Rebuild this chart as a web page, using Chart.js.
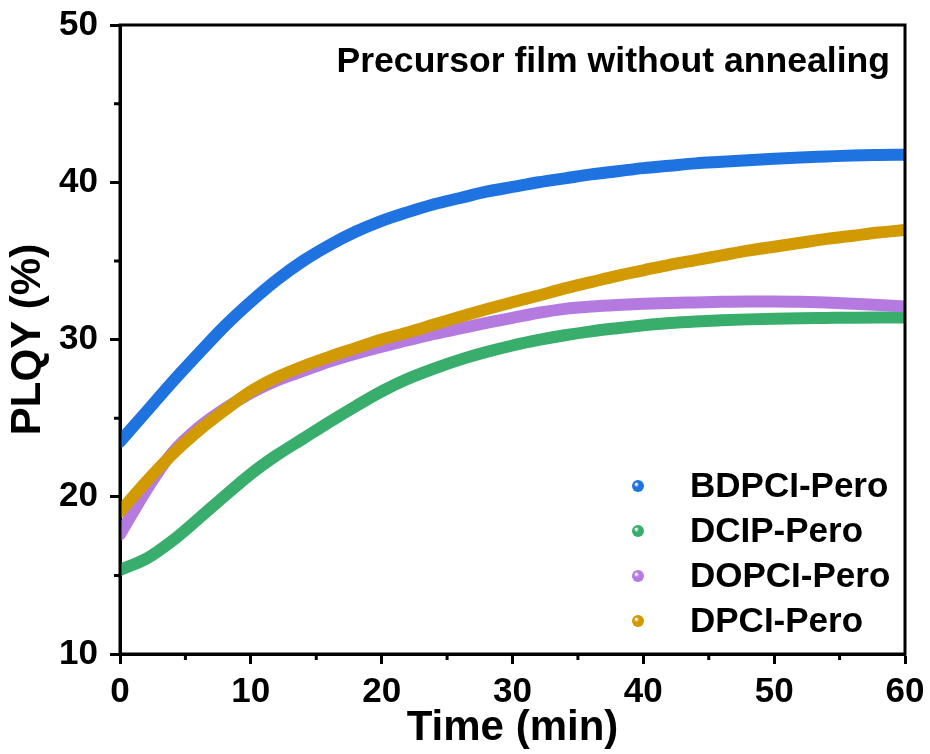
<!DOCTYPE html>
<html>
<head>
<meta charset="utf-8">
<script src="https://cdn.jsdelivr.net/npm/chart.js@4/dist/chart.umd.min.js"></script>
<style>
  html, body { margin: 0; padding: 0; background: #fff; }
  #wrap { width: 930px; height: 754px; }
</style>
</head>
<body>
<div id="wrap"><canvas id="c" width="930" height="754"></canvas></div>
<script>
// ---- data ----
const times = [0, 2, 4, 6, 8, 10, 12, 14, 16, 18, 20, 22, 24, 26, 28, 30, 32, 34, 36, 38, 40, 42, 44, 46, 48, 50, 52, 54, 56, 58, 60];
const seriesNames = ["BDPCI-Pero", "DCIP-Pero", "DOPCI-Pero", "DPCI-Pero"];
const bdpci = [23.5, 25.4, 27.3, 29.1, 30.85, 32.4, 33.8, 35.0, 36.0, 36.85, 37.55, 38.1, 38.6, 39.0, 39.4, 39.7, 40.0, 40.25, 40.5, 40.7, 40.9, 41.05, 41.2, 41.3, 41.4, 41.5, 41.58, 41.64, 41.7, 41.73, 41.75];
const dcip  = [15.35, 16.05, 17.2, 18.6, 20.05, 21.45, 22.65, 23.7, 24.75, 25.75, 26.7, 27.5, 28.15, 28.72, 29.2, 29.62, 29.97, 30.27, 30.52, 30.72, 30.9, 31.05, 31.15, 31.22, 31.28, 31.32, 31.35, 31.37, 31.39, 31.4, 31.4];
const dopci = [17.6, 20.4, 22.8, 24.4, 25.6, 26.6, 27.4, 28.0, 28.6, 29.1, 29.55, 29.95, 30.35, 30.7, 31.05, 31.38, 31.7, 31.95, 32.1, 32.2, 32.27, 32.32, 32.36, 32.4, 32.42, 32.42, 32.4, 32.35, 32.28, 32.2, 32.1];
const dpci  = [19.05, 20.95, 22.7, 24.2, 25.5, 26.7, 27.6, 28.3, 28.9, 29.45, 30.0, 30.45, 30.95, 31.45, 31.92, 32.37, 32.8, 33.25, 33.65, 34.05, 34.4, 34.75, 35.05, 35.35, 35.65, 35.9, 36.15, 36.4, 36.6, 36.8, 36.96];
const xTicks = [0, 10, 20, 30, 40, 50, 60];
const yTicks = [10, 20, 30, 40, 50];
const annotationText = "Precursor film without annealing";
const xTitle = "Time (min)";
const yTitle = "PLQY (%)";

const colors = ["#1f73e0", "#39ae6c", "#b47ae0", "#d09a00"];
const FONT = "'Liberation Sans', Arial, Helvetica, sans-serif";

function pts(arr) { return times.map((t, i) => ({ x: t, y: arr[i] })); }
const allSeries = [bdpci, dcip, dopci, dpci];

const datasets = allSeries.map((s, i) => ({
  label: seriesNames[i],
  data: pts(s),
  borderColor: colors[i],
  backgroundColor: colors[i],
  borderWidth: 12,
  pointRadius: 0,
  fill: false,
  cubicInterpolationMode: 'monotone',
  borderCapStyle: 'round',
  borderJoinStyle: 'round',
  order: 3 - i
}));

const decor = {
  id: 'decor',
  afterDraw(chart) {
    const ctx = chart.ctx;
    const a = chart.chartArea;
    const xs = chart.scales.x, ys = chart.scales.y;
    ctx.save();
    // frame
    ctx.strokeStyle = '#000';
    ctx.lineWidth = 3;
    ctx.strokeRect(a.left, a.top, a.right - a.left, a.bottom - a.top);
    // minor ticks
    ctx.beginPath();
    for (let i = 0; i < xTicks.length - 1; i++) {
      const v = (xTicks[i] + xTicks[i + 1]) / 2;
      const p = xs.getPixelForValue(v);
      ctx.moveTo(p, a.bottom); ctx.lineTo(p, a.bottom + 6);
    }
    for (let i = 0; i < yTicks.length - 1; i++) {
      const v = (yTicks[i] + yTicks[i + 1]) / 2;
      const p = ys.getPixelForValue(v);
      ctx.moveTo(a.left, p); ctx.lineTo(a.left - 6, p);
    }
    ctx.stroke();
    // annotation
    ctx.fillStyle = '#000';
    ctx.font = "bold 35.6px " + FONT;
    ctx.textAlign = 'right';
    ctx.textBaseline = 'alphabetic';
    ctx.fillText(annotationText, a.right - 15, a.top + 47);
    // legend
    const lx = a.right - 267, tx = a.right - 215;
    const ly0 = a.bottom - 168, dy = 45;
    ctx.font = "bold 35px " + FONT;
    ctx.textAlign = 'left';
    ctx.textBaseline = 'middle';
    chart.data.datasets.forEach((ds, i) => {
      const y = ly0 + i * dy;
      const g = ctx.createRadialGradient(lx - 2, y - 2, 0.5, lx, y, 6.5);
      g.addColorStop(0, '#ffffff');
      g.addColorStop(0.35, ds.borderColor);
      g.addColorStop(1, ds.borderColor);
      ctx.fillStyle = g;
      ctx.beginPath();
      ctx.arc(lx, y, 6, 0, Math.PI * 2);
      ctx.fill();
      ctx.fillStyle = '#000';
      ctx.fillText(ds.label, tx, y + 1);
    });
    ctx.restore();
  }
};

new Chart(document.getElementById('c'), {
  type: 'line',
  data: { datasets },
  options: {
    responsive: false,
    animation: false,
    devicePixelRatio: 1,
    layout: { padding: { left: 0, right: 25, top: 25, bottom: 0 } },
    plugins: { legend: { display: false }, tooltip: { enabled: false } },
    scales: {
      x: {
        type: 'linear', position: 'bottom', min: 0, max: 60,
        afterFit: s => { s.height = 100; s.paddingLeft = 0; s.paddingRight = 0; },
        afterBuildTicks: s => { s.ticks = xTicks.map(v => ({ value: v })); },
        border: { display: true, width: 3, color: '#000' },
        grid: { display: true, drawOnChartArea: false, drawTicks: true, tickLength: 10, tickWidth: 3, tickColor: '#000' },
        ticks: { color: '#000', padding: 7, maxRotation: 0, font: { family: FONT, size: 35, weight: 'bold' } },
        title: { display: true, text: xTitle, color: '#000', padding: { top: 0, bottom: 0 }, font: { family: FONT, size: 42, weight: 'bold' } }
      },
      y: {
        type: 'linear', position: 'left', min: 10, max: 50,
        afterFit: s => { s.width = 120; s.paddingTop = 0; s.paddingBottom = 0; },
        afterBuildTicks: s => { s.ticks = yTicks.map(v => ({ value: v })); },
        border: { display: true, width: 3, color: '#000' },
        grid: { display: true, drawOnChartArea: false, drawTicks: true, tickLength: 10, tickWidth: 3, tickColor: '#000' },
        ticks: { color: '#000', padding: 12, font: { family: FONT, size: 35, weight: 'bold' } },
        title: { display: true, text: yTitle, color: '#000', padding: { top: 3, bottom: 0 }, font: { family: FONT, size: 42, weight: 'bold' } }
      }
    }
  },
  plugins: [decor]
});
</script>
</body>
</html>
